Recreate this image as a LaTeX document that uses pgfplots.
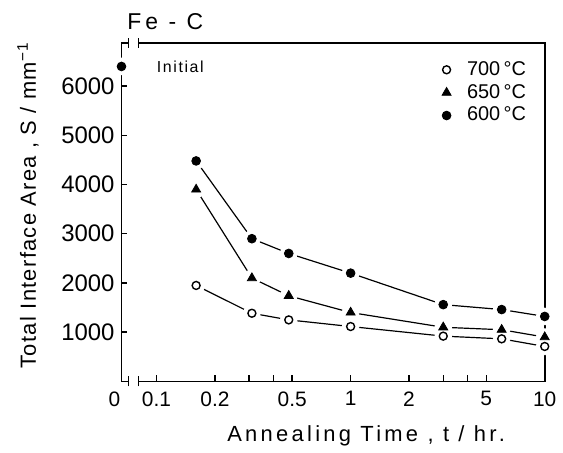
\documentclass[border=0pt]{standalone}
\usepackage{pgfplots}
\pgfplotsset{compat=1.18}
\usepackage{pgfplotstable}
\usepackage{fontspec}
\setmainfont{Liberation Sans}
\newfontfamily\lsx[LetterSpace=15]{Liberation Sans}
\newfontfamily\lsy[LetterSpace=6]{Liberation Sans}
\newfontfamily\lsf[LetterSpace=10]{Liberation Sans}
\newfontfamily\lsc[LetterSpace=18]{Liberation Sans}
\usetikzlibrary{calc}

\pgfplotstableread{
t S
0.16 1950
0.31 1385
0.48 1250
1 1115
3 920
6 865
10 710
}\tseven
\pgfplotstableread{
t S
0.16 3900
0.31 2100
0.48 1740
1 1400
3 1100
6 1050
10 900
}\tsixfifty
\pgfplotstableread{
t S
0.16 4480
0.31 2900
0.48 2600
1 2200
3 1560
6 1460
10 1320
}\tsix
\pgfplotstableread{
t S
0.066 6400
}\tinit

\begin{document}
\begin{tikzpicture}
\begin{axis}[name=ax, scale only axis, width=212.5pt, height=170pt,
  xmode=log, xmin=0.066, xmax=10, ymin=0, ymax=6880,
  axis line style={line width=0.8pt},
  xtick={0.1,0.2,0.5,1,2,5,10},
  xticklabels={0.1,0.2,0.5,1,2,5,10},
  extra x ticks={0.066},
  extra x tick labels={0},
  extra x tick style={xticklabel style={xshift=-3.5pt}},
  minor xtick={0.3,0.4,3,4},
  ytick={1000,2000,3000,4000,5000,6000},
  yticklabels={1000,2000,3000,4000,5000,6000},
  xtick pos=bottom, ytick pos=left, tick align=inside,
  major tick length=3pt, minor tick length=3pt,
  tick style={line width=0.7pt, black},
  yticklabel style={font=\fontsize{12}{14}\selectfont},
  xticklabel style={font=\fontsize{10.5}{12}\selectfont, yshift=-1.5pt},
  clip=false,
  xlabel={\lsx Annealing Time , t / hr.},
  xlabel style={at={(axis description cs:0.578,-0.16)}, anchor=center, font=\fontsize{11}{13}\selectfont},
  ylabel={\lsy Total Interface Area , S / mm\textsuperscript{−1}},
  ylabel style={at={(axis description cs:-0.221,0.52)}, anchor=center, font=\fontsize{11}{13}\selectfont},
  legend style={at={(0.98,0.97)}, anchor=north east, draw=none, fill=none,
    font=\fontsize{10}{12}\selectfont, row sep=-1pt, column sep=6pt},
  legend cell align=left,
]
% connecting lines
\addplot[black, line width=0.6pt, forget plot] table[x=t,y=S]{\tseven};
\addplot[black, line width=0.6pt, forget plot] table[x=t,y=S]{\tsixfifty};
\addplot[black, line width=0.6pt, forget plot] table[x=t,y=S]{\tsix};
% white halos (gaps around marks)
\addplot[only marks, mark=*, mark size=4.2pt, white, forget plot] table[x=t,y=S]{\tseven};
\addplot[only marks, mark=*, mark size=4.2pt, white, forget plot] table[x=t,y=S]{\tsixfifty};
\addplot[only marks, mark=*, mark size=4.2pt, white, forget plot] table[x=t,y=S]{\tsix};
\addplot[only marks, mark=*, mark size=4.2pt, white, forget plot] table[x=t,y=S]{\tinit};
% marks
\addplot[only marks, mark=o, mark size=2pt, black, mark options={fill=white, line width=0.7pt}] table[x=t,y=S]{\tseven};
\addlegendentry{700\,\textdegree C}
\addplot[only marks, mark=triangle*, mark size=2.6pt, black] table[x=t,y=S]{\tsixfifty};
\addlegendentry{650\,\textdegree C}
\addplot[only marks, mark=*, mark size=2.2pt, black] table[x=t,y=S]{\tsix};
\addlegendentry{600\,\textdegree C}
\addplot[only marks, mark=*, mark size=2.2pt, black, forget plot] table[x=t,y=S]{\tinit};
% axis breaks
\fill[white] ([yshift=-2pt]axis cs:0.0715,0) rectangle ([yshift=2pt]axis cs:0.081,0);
\draw[line width=0.7pt] ([yshift=-2.5pt]axis cs:0.0715,0) -- ([yshift=2.5pt]axis cs:0.0715,0);
\draw[line width=0.7pt] ([yshift=-2.5pt]axis cs:0.081,0) -- ([yshift=2.5pt]axis cs:0.081,0);
\fill[white] ([yshift=-2pt]axis cs:0.0715,6880) rectangle ([yshift=2pt]axis cs:0.081,6880);
\draw[line width=0.7pt] ([yshift=-2.5pt]axis cs:0.0715,6880) -- ([yshift=2.5pt]axis cs:0.0715,6880);
\draw[line width=0.7pt] ([yshift=-2.5pt]axis cs:0.081,6880) -- ([yshift=2.5pt]axis cs:0.081,6880);
% texts
\node[anchor=west, inner sep=0pt, font=\fontsize{8}{10}\selectfont] at (axis cs:0.1,6400) {\lsf Initial};
\node[font=\fontsize{11.5}{13}\selectfont, xshift=5pt] at (axis description cs:0.08,1.062) {\lsc Fe - C};
\end{axis}
\path[use as bounding box] ($(ax.south west)+(-61pt,-34.5pt)$) rectangle ($(ax.south west)+(220.5pt,191.5pt)$);
\end{tikzpicture}
\end{document}
